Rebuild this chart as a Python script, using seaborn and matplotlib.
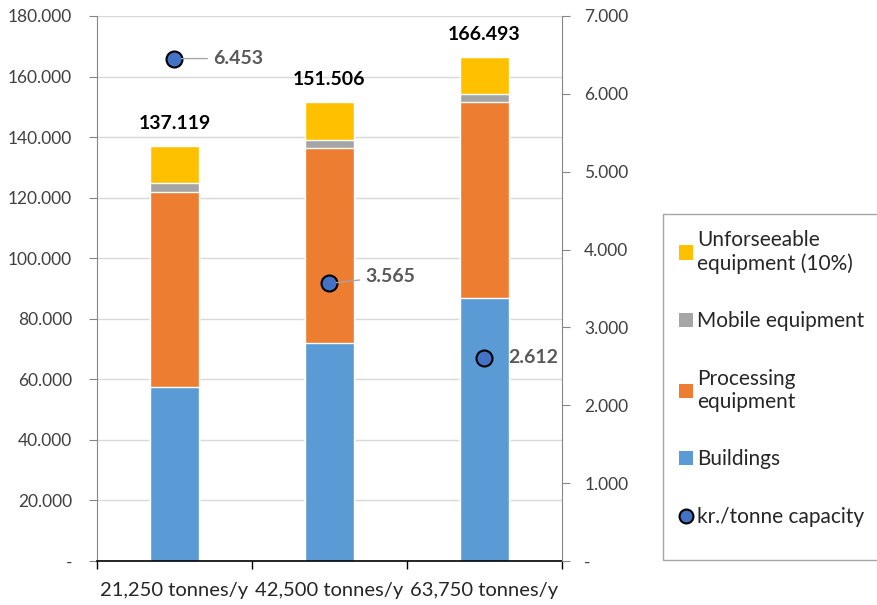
"""
Investment cost by plant capacity: stacked bars (kr. x 1000) with kr./tonne on a secondary axis
"""

import numpy as np
import pandas as pd
import seaborn as sns
import matplotlib.pyplot as plt
from matplotlib.patches import Patch, Rectangle
from matplotlib.lines import Line2D
from matplotlib.ticker import FuncFormatter, MultipleLocator, FixedLocator

sns.set_style("white")
plt.rcParams['font.family'] = ['Lato', 'DejaVu Sans']

# data (values in 1000 kr.)
capacities = ['21,250 tonnes/y', '42,500 tonnes/y', '63,750 tonnes/y']
buildings = [57.5, 71.9, 86.8]
processing = [64.5, 64.6, 64.9]
mobile = [3.0, 2.6, 2.5]
totals = [137.119, 151.506, 166.493]
per_tonne = [6.453, 3.565, 2.612]

series_names = ['Unforseeable\nequipment (10%)', 'Mobile equipment',
                'Processing\nequipment', 'Buildings']
colors = ['#FFC000', '#A5A5A5', '#ED7D31', '#5B9BD5']
point_color = '#4472C4'
text_grey = '#404040'

# cumulative heights, drawn from the top segment down
cum_bp = [b + p for b, p in zip(buildings, processing)]
cum_bpm = [c + m for c, m in zip(cum_bp, mobile)]
layers = [totals, cum_bpm, cum_bp, buildings]

fig = plt.figure(figsize=(8.77, 6.05), dpi=100)
ax = fig.add_axes([0.1106, 0.0727, 0.5302, 0.9009])

df = pd.DataFrame({'capacity': capacities})
for heights, col in zip(layers, colors):
    df['h'] = heights
    sns.barplot(data=df, x='capacity', y='h', color=col, saturation=1,
                width=0.31, ax=ax, zorder=2)

# total labels on top of bars
ax.bar_label(ax.containers[0], labels=[f'{t:.3f}' for t in totals],
             padding=10, fontsize=14, fontweight='bold', color='black')

fmt = FuncFormatter(lambda v, _: '-' if abs(v) < 1e-9 else f'{v:.3f}')

ax.set_ylim(0, 180)
ax.yaxis.set_major_locator(MultipleLocator(20))
ax.yaxis.set_major_formatter(fmt)
ax.set_xlim(-0.5, 2.5)
ax.set_xlabel('')
ax.set_ylabel('')
ax.yaxis.grid(True, color='#D9D9D9', linewidth=1, zorder=0)
ax.set_axisbelow(True)

ax.tick_params(axis='y', labelsize=12.5, colors='#868686', labelcolor=text_grey,
               length=6, direction='out', left=True, pad=12)
ax.tick_params(axis='x', which='major', length=0, labelsize=14.5,
               labelcolor='#262626', pad=15)
ax.xaxis.set_minor_locator(FixedLocator([-0.5, 0.5, 1.5, 2.5]))
ax.tick_params(axis='x', which='minor', length=6, width=1, color='black',
               direction='out', bottom=True)

ax.spines['top'].set_visible(False)
ax.spines['right'].set_visible(False)
ax.spines['left'].set_color('#868686')
ax.spines['bottom'].set_color('black')
ax.spines['bottom'].set_linewidth(1.2)

# secondary axis: kr./tonne capacity
ax2 = ax.twinx()
sns.pointplot(x=capacities, y=per_tonne, ax=ax2, color=point_color,
              linestyle='none', markers='o', markersize=11.5,
              markeredgecolor='black', markeredgewidth=1.5, zorder=5)
ax2.set_ylim(0, 7)
ax2.set_xlim(-0.5, 2.5)
ax2.yaxis.set_major_locator(MultipleLocator(1))
ax2.yaxis.set_major_formatter(fmt)
ax2.tick_params(axis='y', labelsize=12.5, colors='#868686', labelcolor=text_grey,
                length=6, direction='out', right=True, pad=10)
ax2.spines['top'].set_visible(False)
ax2.spines['left'].set_visible(False)
ax2.spines['bottom'].set_visible(False)
ax2.spines['right'].set_color('#868686')
ax2.grid(False)
ax2.set_ylabel('')

label_offsets = [(28, 0), (26, 5), (17, 0)]
leader = [True, True, False]
for i, (v, off, has_line) in enumerate(zip(per_tonne, label_offsets, leader)):
    props = dict(arrowstyle='-', color='#A6A6A6', lw=1,
                 shrinkA=2, shrinkB=5) if has_line else None
    ax2.annotate(f'{v:.3f}', xy=(i, v), xytext=off, textcoords='offset points',
                 ha='left', va='center', fontsize=14, fontweight='bold',
                 color='#595959', arrowprops=props, zorder=6)

# legend (frame drawn separately so the box can run to the chart's lower edge)
handles = [Patch(facecolor=c, edgecolor='none') for c in colors]
handles.append(Line2D([], [], linestyle='none', marker='o', markersize=10,
                      markerfacecolor=point_color, markeredgecolor='black',
                      markeredgewidth=1.5))
labels = series_names + ['kr./tonne capacity']
leg = fig.legend(handles, labels, loc='upper left', bbox_to_anchor=(0.756, 0.646),
                 frameon=False, fontsize=15, labelspacing=1.8, handlelength=0.7,
                 handleheight=0.7, handletextpad=0.2, borderpad=0.75,
                 borderaxespad=0)
for t in leg.get_texts():
    t.set_color('#262626')
fig.patches.append(Rectangle((663 / 877, 45 / 605), 0.3, 346 / 605,
                             transform=fig.transFigure, fill=False,
                             edgecolor='#A6A6A6', linewidth=1))

fig.savefig('out.png', dpi=100)
